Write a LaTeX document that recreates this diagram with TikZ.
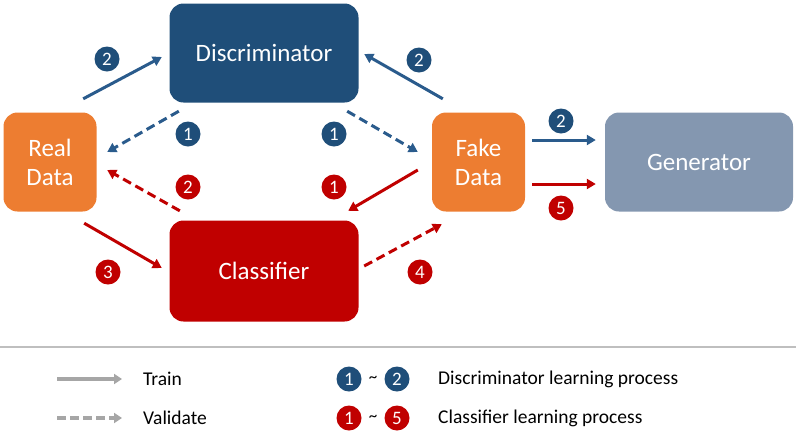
\documentclass[tikz,border=0pt]{standalone}
\usepackage{fontspec}
\setmainfont{Carlito}
\usetikzlibrary{arrows.meta,calc}
\definecolor{dblue}{HTML}{1F4E79}
\definecolor{ablue}{HTML}{2A5B8C}
\definecolor{dorange}{HTML}{ED7D31}
\definecolor{dred}{HTML}{C00000}
\definecolor{gblue}{HTML}{8497B0}
\definecolor{lgray}{HTML}{A6A6A6}
\definecolor{sepgray}{HTML}{BFBFBF}
\begin{document}
\begin{tikzpicture}[x=1pt,y=-1pt,
  box/.style={rounded corners=14pt, text=white, align=center, inner sep=0pt,
    font=\fontsize{25}{29}\selectfont},
  arr/.style={line width=3pt, -{Triangle[length=9pt,width=10pt]}},
  val/.style={arr, dash pattern=on 9pt off 5pt},
  num/.style={circle, minimum size=25pt, inner sep=0pt, text=white,
    font=\fontsize{19}{19}\selectfont},
  leg/.style={font=\fontsize{19.5}{20}\selectfont, anchor=west, inner sep=0pt}]
\useasboundingbox (0,0) rectangle (800,440);

% boxes
\node[box, fill=dblue, minimum width=189pt, minimum height=99pt] (disc) at (264,53) {Discriminator};
\node[box, fill=dorange, minimum width=93pt, minimum height=99pt] (real) at (50,162) {Real\\Data};
\node[box, fill=dorange, minimum width=93pt, minimum height=99pt] (fake) at (478.5,162) {Fake\\Data};
\node[box, fill=gblue, minimum width=188pt, minimum height=99pt] (gen) at (699,162) {Generator};
\node[box, fill=dred, minimum width=189pt, minimum height=101pt] (cls) at (264,271) {Classifier};

% arrows
\draw[arr, ablue] ($(real.north east)+(-13.5,-13.5)$) -- ($(disc.west)+(-7.5,4)$);
\draw[val, ablue] ($(disc.south west)+(9.5,8.5)$) -- ($(real.east)+(10.5,-10)$);
\draw[val, ablue] ($(disc.south east)+(-11.5,8.5)$) -- ($(fake.west)+(-14,-10)$);
\draw[arr, ablue] ($(fake.north west)+(11,-13.5)$) -- ($(disc.east)+(5.5,1)$);
\draw[val, dred] ($(cls.north west)+(10.5,-9.5)$) -- ($(real.east)+(10.5,8)$);
\draw[arr, dred] ($(fake.west)+(-14,8)$) -- ($(cls.north east)+(-10.5,-9.5)$);
\draw[arr, dred] ($(real.south east)+(-12.5,11.5)$) -- ($(cls.west)+(-7.5,-3)$);
\draw[val, dred] ($(cls.east)+(5.5,-5)$) -- ($(fake.south west)+(10,12.5)$);
\draw[arr, ablue] ($(fake.east)+(7,-22)$) -- ($(gen.west)+(-9,-22)$);
\draw[arr, dred] ($(fake.east)+(7,22)$) -- ($(gen.west)+(-9,22)$);

% step numbers
\node[num, fill=dblue] (n1) at (107,59) {2};
\node[num, fill=dblue] (n2) at (188,134) {1};
\node[num, fill=dblue] (n3) at (334,134) {1};
\node[num, fill=dblue] (n4) at (419,60) {2};
\node[num, fill=dred] (n5) at (188,187) {2};
\node[num, fill=dred] (n6) at (334,187) {1};
\node[num, fill=dred] (n7) at (108,272) {3};
\node[num, fill=dred] (n8) at (420,272) {4};
\node[num, fill=dblue] (n9) at (561,121) {2};
\node[num, fill=dred] (n10) at (561,208) {5};

% legend
\draw[sepgray, line width=1.5pt] (0,347) -- (796,347);
\coordinate (ta) at (57,379);
\coordinate (tb) at (122,379);
\coordinate (va) at (57,418);
\coordinate (vb) at (122,418);
\draw[lgray, line width=3.5pt, -{Triangle[length=8pt,width=10pt]}] (ta) -- (tb);
\draw[lgray, line width=3.5pt, dash pattern=on 9pt off 4pt, -{Triangle[length=8pt,width=10pt]}] (va) -- (vb);
\node[leg] (ltrain) at (143,379) {Train};
\node[leg] (lval) at (143,418) {Validate};
\node[num, fill=dblue] (lb1) at (349,379) {1};
\node[num, fill=dblue] (lb2) at (397,379) {2};
\node[font=\fontsize{17}{17}\selectfont, inner sep=0pt] (lbt) at (373,379) {\textasciitilde};
\node[num, fill=dred] (lr1) at (349,418) {1};
\node[num, fill=dred] (lr2) at (397,418) {5};
\node[font=\fontsize{17}{17}\selectfont, inner sep=0pt] (lrt) at (373,418) {\textasciitilde};
\node[leg] (ldisc) at (438,379) {Discriminator learning process};
\node[leg] (lcls) at (438,418) {Classifier learning process};
\end{tikzpicture}
\end{document}
